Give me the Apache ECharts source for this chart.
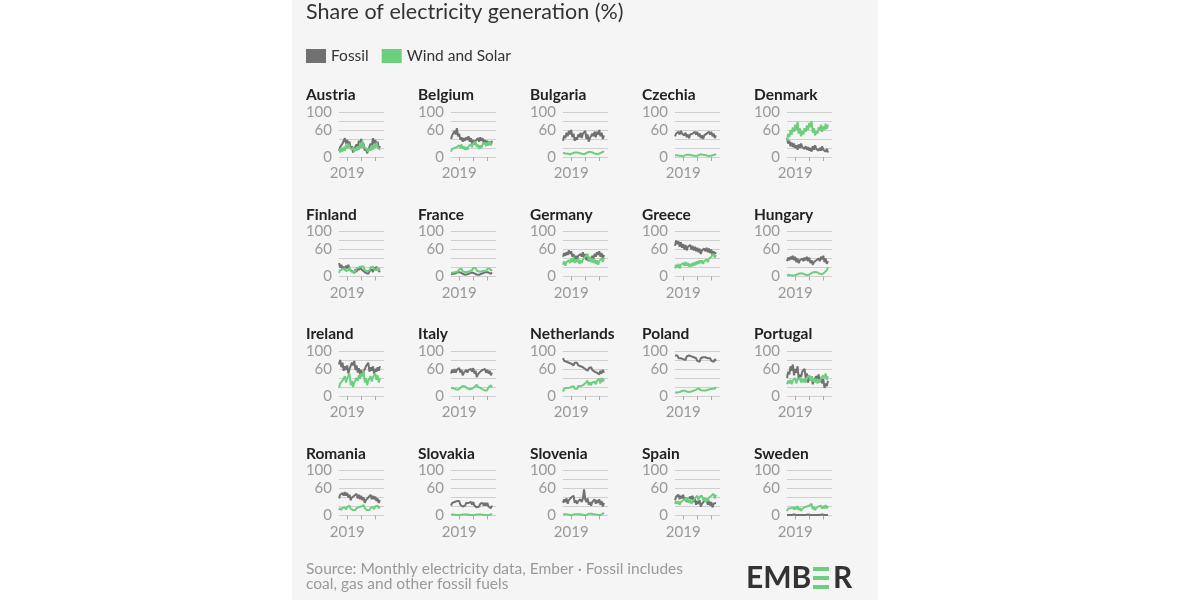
<!DOCTYPE html>
<html>
<head>
<meta charset="utf-8">
<script src="https://cdn.jsdelivr.net/npm/echarts@6/dist/echarts.min.js"></script>
<style>
  html, body { margin: 0; background: #fff; }
  #chart { width: 1200px; height: 600px; }
</style>
</head>
<body>
<div id="chart"></div>
<script>
// monthly shares (%), Jun 2018 .. May 2021
const startYear = 2018 + 5 / 12
const yearTicks = [2019, 2020, 2021]
const yearLabels = [2019]
const yTicks = [0, 60, 100]

const austriaFossil = [14, 22, 18, 30, 26, 42, 30, 38, 28, 34, 18, 24, 10, 18, 14, 28, 22, 36, 26, 40, 22, 30, 14, 20, 8, 16, 12, 30, 24, 42, 30, 38, 26, 34, 18, 24]
const austriaWind = [18, 10, 20, 12, 22, 14, 28, 18, 30, 22, 26, 16, 22, 12, 20, 14, 24, 16, 32, 20, 36, 24, 28, 18, 22, 12, 20, 14, 26, 16, 28, 20, 32, 22, 26, 16]
const belgiumFossil = [40, 48, 44, 58, 50, 64, 46, 52, 38, 44, 34, 42, 36, 44, 38, 46, 34, 42, 30, 38, 28, 36, 32, 42, 34, 44, 36, 42, 30, 38, 28, 36, 26, 34, 28, 36]
const belgiumWind = [12, 18, 14, 20, 16, 22, 18, 26, 20, 28, 18, 24, 16, 22, 16, 24, 20, 28, 22, 30, 26, 34, 22, 28, 18, 26, 20, 28, 24, 32, 24, 32, 26, 34, 26, 32]
const bulgariaFossil = [36, 48, 42, 54, 46, 58, 50, 60, 44, 52, 36, 44, 38, 50, 44, 54, 42, 52, 48, 58, 40, 50, 34, 42, 40, 52, 46, 56, 44, 56, 50, 60, 46, 54, 40, 48]
const bulgariaWind = [9, 12, 8, 11, 7, 10, 6, 9, 8, 11, 10, 13, 10, 12, 9, 11, 7, 10, 6, 9, 9, 12, 11, 13, 11, 13, 9, 12, 7, 10, 6, 9, 9, 12, 11, 13]
const czechiaFossil = [46, 52, 48, 56, 50, 58, 52, 56, 48, 54, 44, 50, 42, 50, 46, 52, 48, 56, 50, 56, 46, 52, 42, 48, 40, 48, 44, 52, 48, 56, 50, 56, 46, 52, 42, 48]
const czechiaWind = [4, 6, 4, 6, 3, 5, 2, 4, 3, 6, 5, 7, 5, 7, 4, 6, 3, 5, 2, 4, 4, 6, 6, 8, 5, 7, 4, 6, 3, 5, 2, 4, 4, 6, 5, 7]
const denmarkFossil = [42, 30, 36, 24, 32, 22, 30, 20, 26, 16, 28, 20, 30, 22, 26, 18, 24, 16, 22, 14, 20, 12, 24, 16, 26, 18, 22, 14, 20, 14, 24, 16, 20, 12, 18, 10]
const denmarkWind = [36, 52, 44, 60, 50, 66, 56, 72, 60, 78, 52, 64, 46, 58, 50, 64, 56, 70, 60, 76, 66, 80, 54, 64, 48, 58, 52, 66, 58, 72, 56, 68, 60, 74, 62, 72]
const finlandFossil = [30, 20, 26, 16, 22, 14, 24, 18, 26, 16, 20, 12, 14, 8, 16, 10, 20, 14, 22, 16, 18, 12, 14, 8, 10, 6, 12, 8, 16, 10, 20, 14, 22, 16, 18, 10]
const finlandWind = [8, 14, 10, 16, 12, 18, 12, 16, 14, 20, 12, 16, 10, 14, 12, 18, 14, 20, 16, 22, 18, 22, 14, 18, 12, 16, 14, 20, 16, 22, 16, 20, 14, 20, 14, 18]
const franceFossil = [5, 8, 6, 9, 7, 11, 10, 13, 9, 12, 6, 9, 4, 7, 5, 8, 7, 10, 9, 12, 7, 10, 4, 6, 4, 7, 6, 9, 8, 12, 10, 13, 9, 12, 6, 9]
const franceWind = [8, 12, 9, 13, 10, 14, 11, 16, 12, 17, 11, 14, 10, 13, 10, 14, 12, 16, 14, 19, 15, 19, 13, 16, 11, 14, 11, 15, 13, 17, 12, 17, 14, 18, 13, 16]
const germanyFossil = [44, 52, 46, 54, 48, 58, 50, 56, 44, 50, 38, 46, 38, 46, 42, 50, 44, 54, 40, 50, 36, 44, 34, 42, 36, 46, 40, 50, 44, 54, 48, 56, 44, 52, 40, 48]
const germanyWind = [26, 34, 24, 32, 28, 36, 30, 40, 32, 44, 30, 38, 32, 40, 28, 36, 30, 38, 34, 44, 40, 50, 36, 44, 32, 40, 30, 38, 28, 36, 26, 34, 30, 40, 32, 42]
const greeceFossil = [68, 80, 72, 78, 66, 76, 64, 72, 60, 70, 58, 66, 62, 70, 60, 68, 58, 66, 56, 64, 54, 62, 50, 58, 54, 62, 56, 64, 54, 62, 52, 60, 48, 56, 50, 54]
const greeceWind = [18, 26, 20, 28, 18, 26, 22, 30, 24, 32, 24, 30, 22, 28, 22, 30, 24, 32, 26, 34, 28, 36, 30, 36, 28, 34, 30, 38, 32, 40, 36, 44, 40, 50, 42, 48]
const hungaryFossil = [34, 42, 36, 44, 38, 46, 36, 44, 32, 40, 30, 36, 32, 40, 34, 42, 36, 44, 34, 42, 30, 36, 26, 32, 28, 36, 32, 40, 34, 44, 38, 46, 32, 40, 28, 34]
const hungaryWind = [3, 6, 4, 6, 2, 4, 2, 4, 4, 7, 6, 10, 7, 11, 6, 9, 4, 6, 3, 5, 6, 9, 9, 13, 10, 14, 9, 12, 6, 9, 5, 7, 9, 13, 14, 20]
const irelandFossil = [70, 80, 64, 74, 56, 66, 58, 68, 50, 60, 62, 74, 68, 78, 58, 68, 52, 62, 48, 58, 44, 54, 56, 66, 62, 74, 54, 64, 56, 66, 50, 60, 54, 64, 56, 66]
const irelandWind = [18, 28, 24, 34, 32, 44, 30, 40, 38, 50, 24, 34, 20, 30, 28, 40, 34, 46, 38, 50, 44, 56, 30, 40, 24, 34, 34, 44, 32, 42, 40, 50, 36, 46, 30, 40]
const italyFossil = [50, 58, 52, 60, 52, 58, 54, 62, 52, 58, 46, 52, 50, 58, 52, 58, 54, 60, 54, 62, 50, 56, 42, 48, 46, 54, 52, 58, 54, 60, 52, 58, 50, 56, 46, 52]
const italyWind = [18, 14, 17, 13, 15, 11, 14, 12, 18, 15, 22, 18, 21, 17, 17, 14, 15, 12, 16, 13, 20, 16, 25, 20, 22, 18, 19, 15, 15, 12, 16, 13, 19, 15, 24, 19]
const netherlandsFossil = [84, 78, 82, 76, 80, 74, 78, 72, 76, 68, 74, 70, 74, 68, 72, 66, 70, 64, 66, 60, 62, 56, 62, 58, 64, 58, 60, 54, 58, 52, 54, 48, 56, 50, 58, 52]
const netherlandsWind = [10, 16, 12, 18, 14, 18, 14, 20, 16, 22, 16, 20, 16, 22, 18, 22, 18, 24, 22, 28, 26, 34, 24, 30, 24, 30, 26, 32, 26, 34, 30, 38, 28, 40, 32, 38]
const polandFossil = [90, 86, 90, 84, 88, 84, 88, 82, 86, 80, 88, 84, 90, 86, 88, 84, 86, 82, 84, 78, 80, 76, 84, 80, 86, 82, 86, 82, 84, 80, 84, 78, 82, 76, 82, 78]
const polandWind = [8, 12, 8, 12, 9, 13, 11, 15, 12, 16, 10, 13, 9, 13, 10, 14, 12, 16, 14, 18, 17, 21, 13, 16, 12, 15, 12, 16, 14, 18, 15, 19, 16, 20, 16, 20]
const portugalFossil = [40, 54, 48, 66, 56, 70, 46, 60, 52, 66, 38, 48, 42, 54, 50, 60, 40, 50, 30, 42, 34, 44, 26, 36, 34, 44, 38, 48, 32, 42, 28, 38, 18, 28, 22, 34]
const portugalWind = [26, 34, 28, 36, 26, 34, 30, 40, 28, 36, 32, 40, 30, 38, 30, 38, 30, 40, 36, 46, 34, 44, 32, 40, 30, 38, 28, 36, 30, 40, 36, 46, 40, 50, 36, 44]
const romaniaFossil = [38, 46, 42, 50, 44, 52, 44, 50, 40, 46, 34, 40, 36, 44, 40, 48, 38, 46, 36, 44, 34, 40, 28, 34, 32, 40, 38, 46, 36, 44, 36, 42, 32, 38, 28, 34]
const romaniaWind = [12, 17, 12, 17, 13, 18, 13, 19, 16, 22, 15, 19, 12, 16, 12, 17, 13, 18, 14, 20, 18, 23, 16, 20, 12, 16, 12, 17, 14, 19, 14, 20, 16, 22, 16, 20]
const slovakiaFossil = [22, 28, 24, 30, 26, 32, 28, 32, 24, 28, 20, 24, 22, 28, 24, 28, 24, 30, 24, 30, 22, 26, 18, 22, 20, 26, 22, 28, 22, 28, 22, 28, 20, 24, 16, 22]
const slovakiaWind = [2, 4, 2, 4, 1, 3, 1, 2, 1, 3, 2, 4, 2, 4, 2, 4, 1, 3, 1, 2, 1, 3, 2, 4, 2, 4, 2, 4, 1, 3, 1, 2, 1, 3, 2, 4]
const sloveniaFossil = [28, 36, 30, 38, 26, 34, 32, 40, 36, 44, 28, 34, 26, 32, 28, 36, 30, 38, 58, 36, 30, 38, 24, 30, 22, 30, 28, 36, 26, 34, 28, 36, 24, 32, 20, 28]
const sloveniaWind = [3, 5, 3, 5, 2, 4, 1, 2, 1, 3, 3, 5, 3, 5, 3, 5, 2, 4, 1, 2, 1, 3, 4, 6, 4, 6, 3, 5, 2, 4, 1, 2, 1, 3, 4, 6]
const spainFossil = [34, 42, 38, 46, 36, 44, 38, 46, 34, 40, 30, 36, 34, 42, 36, 44, 30, 38, 24, 32, 26, 34, 20, 26, 24, 32, 28, 36, 24, 32, 22, 30, 18, 26, 22, 28]
const spainWind = [26, 32, 26, 32, 24, 30, 26, 34, 30, 38, 32, 40, 28, 34, 26, 32, 30, 38, 36, 44, 34, 42, 38, 44, 34, 40, 30, 38, 32, 40, 36, 44, 40, 48, 38, 46]
const swedenFossil = [1, 2, 1, 2, 1, 3, 2, 3, 1, 2, 1, 2, 1, 2, 1, 2, 1, 3, 2, 3, 1, 2, 1, 2, 1, 2, 1, 2, 1, 3, 2, 3, 1, 2, 1, 2]
const swedenWind = [10, 15, 11, 16, 12, 18, 13, 19, 14, 21, 12, 17, 10, 15, 12, 18, 14, 20, 16, 22, 20, 26, 14, 19, 12, 17, 14, 20, 16, 22, 15, 21, 16, 23, 16, 21]

const countries = [
  ['Austria', austriaFossil, austriaWind],
  ['Belgium', belgiumFossil, belgiumWind],
  ['Bulgaria', bulgariaFossil, bulgariaWind],
  ['Czechia', czechiaFossil, czechiaWind],
  ['Denmark', denmarkFossil, denmarkWind],
  ['Finland', finlandFossil, finlandWind],
  ['France', franceFossil, franceWind],
  ['Germany', germanyFossil, germanyWind],
  ['Greece', greeceFossil, greeceWind],
  ['Hungary', hungaryFossil, hungaryWind],
  ['Ireland', irelandFossil, irelandWind],
  ['Italy', italyFossil, italyWind],
  ['Netherlands', netherlandsFossil, netherlandsWind],
  ['Poland', polandFossil, polandWind],
  ['Portugal', portugalFossil, portugalWind],
  ['Romania', romaniaFossil, romaniaWind],
  ['Slovakia', slovakiaFossil, slovakiaWind],
  ['Slovenia', sloveniaFossil, sloveniaWind],
  ['Spain', spainFossil, spainWind],
  ['Sweden', swedenFossil, swedenWind]
]

const FONT = 'Lato'
const GRAY = '#717171'
const GREEN = '#6dcf7e'

const toPoints = arr => arr.map((v, i) => [startYear + i / 12, v])

const grids = [], xAxes = [], yAxes = [], series = [], graphics = []

// light panel behind the chart
graphics.push({ type: 'rect', z: -10, shape: { x: 292, y: 0, width: 586, height: 600 }, style: { fill: '#f5f5f5' } })
graphics.push({
  type: 'text', x: 306, y: 12,
  style: { text: 'Share of electricity generation (%)', fontSize: 21.5, fontFamily: FONT, fill: '#333', verticalAlign: 'middle' }
})

countries.forEach(([name, fossil, wind], k) => {
  const col = k % 5, row = Math.floor(k / 5)
  const left = 339 + 112 * col
  const top = 112 + 119.5 * row
  grids.push({ left: left, top: top, width: 45, height: 45 })
  xAxes.push({
    type: 'value', gridIndex: k, min: startYear, max: 2021.62,
    axisLine: { show: false },
    splitLine: { show: false },
    axisTick: { show: true, customValues: yearTicks, length: 4, lineStyle: { color: '#aaa' } },
    axisLabel: {
      customValues: yearLabels, color: '#999', fontSize: 15, fontFamily: FONT, margin: 9,
      formatter: v => String(v)
    }
  })
  yAxes.push({
    type: 'value', gridIndex: k, min: 0, max: 100, interval: 20,
    axisLine: { show: false }, axisTick: { show: false },
    splitLine: { lineStyle: { color: '#cfcfcf', width: 1 } },
    axisLabel: {
      color: '#999', fontSize: 15, fontFamily: FONT, margin: 7,
      formatter: v => yTicks.includes(v) ? String(v) : ''
    }
  })
  series.push({
    name: 'Fossil', type: 'line', xAxisIndex: k, yAxisIndex: k,
    showSymbol: false, data: toPoints(fossil),
    lineStyle: { color: GRAY, width: 2 }, itemStyle: { color: GRAY }
  })
  series.push({
    name: 'Wind and Solar', type: 'line', xAxisIndex: k, yAxisIndex: k,
    showSymbol: false, data: toPoints(wind),
    lineStyle: { color: GREEN, width: 2 }, itemStyle: { color: GREEN }
  })
  graphics.push({
    type: 'text', x: 306 + 112 * col, y: 95 + 119.5 * row,
    style: { text: name, fontSize: 15.5, fontWeight: 'bold', fontFamily: FONT, fill: '#222', verticalAlign: 'middle' }
  })
})

// source note + logo
graphics.push({
  type: 'text', x: 306, y: 576,
  style: {
    text: 'Source: Monthly electricity data, Ember · Fossil includes\ncoal, gas and other fossil fuels',
    fontSize: 15.5, lineHeight: 15, fontFamily: FONT, fill: '#999', verticalAlign: 'middle'
  }
})
graphics.push({
  type: 'text', x: 746, y: 578,
  style: { text: 'EMB', fontSize: 30, fontWeight: 'bold', fontFamily: FONT, fill: '#333', verticalAlign: 'middle' }
})
;[567, 576, 585].forEach(y => graphics.push({
  type: 'rect', shape: { x: 813, y: y, width: 16, height: 4 }, style: { fill: GREEN }
}))
graphics.push({
  type: 'text', x: 833, y: 578,
  style: { text: 'R', fontSize: 30, fontWeight: 'bold', fontFamily: FONT, fill: '#333', verticalAlign: 'middle' }
})

const chart = echarts.init(document.getElementById('chart'))
chart.setOption({
  animation: false,
  backgroundColor: '#fff',
  legend: {
    data: ['Fossil', 'Wind and Solar'], left: 306, top: 48, padding: 0,
    icon: 'rect', itemWidth: 20, itemHeight: 14, itemGap: 13,
    textStyle: { fontSize: 15.5, fontFamily: FONT, color: '#333' }
  },
  grid: grids,
  xAxis: xAxes,
  yAxis: yAxes,
  series: series,
  graphic: graphics
})
</script>
</body>
</html>
